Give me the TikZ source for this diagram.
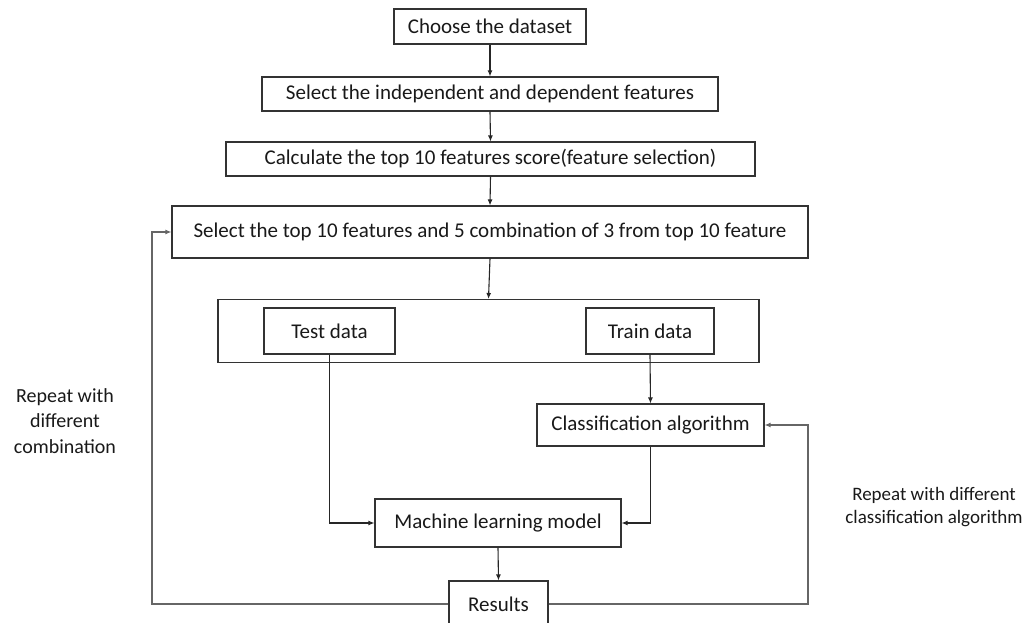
\documentclass[tikz,border=0pt]{standalone}
\usepackage{fontspec}
\setmainfont{Carlito}
\usetikzlibrary{arrows.meta}
\begin{document}
\begin{tikzpicture}[x=1pt,y=-1pt,
  box/.style={draw=black!80, line width=1.1pt, rectangle, inner sep=0pt, align=center,
    font=\fontsize{21}{25}\selectfont, text=black!90},
  conn/.style={draw=black!85, line width=1.1pt, -{Latex[length=6pt,width=5pt]}},
  loopline/.style={draw=black!60, line width=1.3pt, -{Latex[length=6pt,width=5pt]}},
  lblA/.style={align=center, font=\fontsize{20}{25.5}\selectfont, text=black!90},
  lblB/.style={align=center, font=\fontsize{19}{22.5}\selectfont, text=black!90}]
\useasboundingbox (0,0) rectangle (1029,623);
\clip (0,0) rectangle (1029,623);
\node[box, minimum width=192pt, minimum height=35pt] (choose) at (490,26.5) {Choose the dataset};
\node[box, minimum width=456pt, minimum height=34pt] (indep) at (490,94) {Select the independent and dependent features};
\node[box, minimum width=529pt, minimum height=34pt] (calc) at (490.5,159) {Calculate the top 10 features score(feature selection)};
\node[box, minimum width=636pt, minimum height=52pt] (sel) at (490,232) {Select the top 10 features and 5 combination of 3 from top 10 feature};
\node[box, minimum width=541pt, minimum height=63pt] (big) at (488.5,331) {};
\node[box, minimum width=131pt, minimum height=46pt] (test) at (329.5,331) {Test data};
\node[box, minimum width=128pt, minimum height=46pt] (train) at (650,331) {Train data};
\node[box, minimum width=227pt, minimum height=42pt] (class) at (650.5,425) {Classification algorithm};
\node[box, minimum width=246pt, minimum height=48pt] (ml) at (498,523) {Machine learning model};
\node[box, minimum width=99pt, minimum height=46pt] (res) at (498.5,604) {Results};
\node[lblA] (lblleft) at (65,421) {Repeat with\\different\\combination};
\node[lblB] (lblright) at (934,507) {Repeat with different\\classification algorithm};
\coordinate (lc) at (152,0);
\coordinate (rc) at (808,0);
\draw[conn] (choose.south) -- (indep.north);
\draw[conn] (indep.south) -- (calc.north);
\draw[conn] (calc.south) -- (sel.north);
\draw[conn] (sel.south) -- (big.north);
\draw[conn] (train.south) -- (class.north);
\draw[conn] (test.south) |- (ml.west);
\draw[conn] (class.south) |- (ml.east);
\draw[conn] (ml.south) -- (res.north);
\draw[loopline] (res.west) -- (res.west -| lc) -- (lc |- sel.west) -- (sel.west);
\draw[loopline] (res.east) -- (res.east -| rc) -- (rc |- class.east) -- (class.east);
\end{tikzpicture}
\end{document}
